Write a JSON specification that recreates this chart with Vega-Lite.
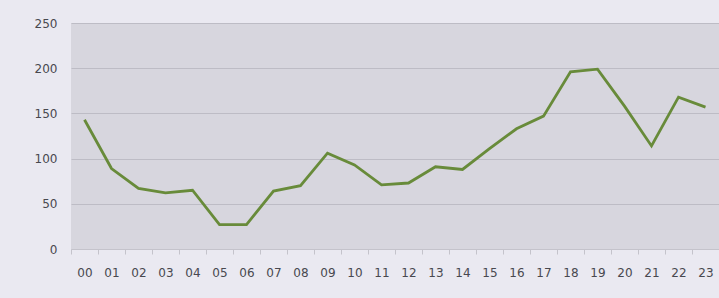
{
  "$schema": "https://vega.github.io/schema/vega-lite/v6.json",
  "autosize": {"type": "none"},
  "width": 648,
  "height": 226,
  "padding": {"left": 71, "top": 23, "right": 0, "bottom": 49},
  "background": "#eae9f1",
  "config": {
    "view": {"fill": "#d7d6de", "stroke": null},
    "axis": {"labelFont": "DejaVu Sans", "labelColor": "#48484f", "labelFontSize": 12}
  },
  "data": {
    "values": [
      {"hour": "00", "value": 143},
      {"hour": "01", "value": 89},
      {"hour": "02", "value": 67},
      {"hour": "03", "value": 62},
      {"hour": "04", "value": 65},
      {"hour": "05", "value": 27},
      {"hour": "06", "value": 27},
      {"hour": "07", "value": 64},
      {"hour": "08", "value": 70},
      {"hour": "09", "value": 106},
      {"hour": "10", "value": 93},
      {"hour": "11", "value": 71},
      {"hour": "12", "value": 73},
      {"hour": "13", "value": 91},
      {"hour": "14", "value": 88},
      {"hour": "15", "value": 111},
      {"hour": "16", "value": 133},
      {"hour": "17", "value": 147},
      {"hour": "18", "value": 196},
      {"hour": "19", "value": 199},
      {"hour": "20", "value": 158},
      {"hour": "21", "value": 114},
      {"hour": "22", "value": 168},
      {"hour": "23", "value": 157}
    ]
  },
  "mark": {"type": "line", "color": "#688b3a", "strokeWidth": 2.8},
  "encoding": {
    "x": {
      "field": "hour", "type": "ordinal", "title": null,
      "scale": {"paddingInner": 0, "paddingOuter": 0},
      "axis": {"labelAngle": 0, "tickBand": "extent", "tickSize": 5, "tickColor": "#c4c3cb", "domainColor": "#c4c3cb", "labelPadding": 13, "grid": false}
    },
    "y": {
      "field": "value", "type": "quantitative", "title": null,
      "scale": {"domain": [0, 250]},
      "axis": {"values": [0, 50, 100, 150, 200, 250], "ticks": false, "domain": false, "gridColor": "#bdbcc5", "gridOpacity": 1, "labelPadding": 14}
    }
  }
}
